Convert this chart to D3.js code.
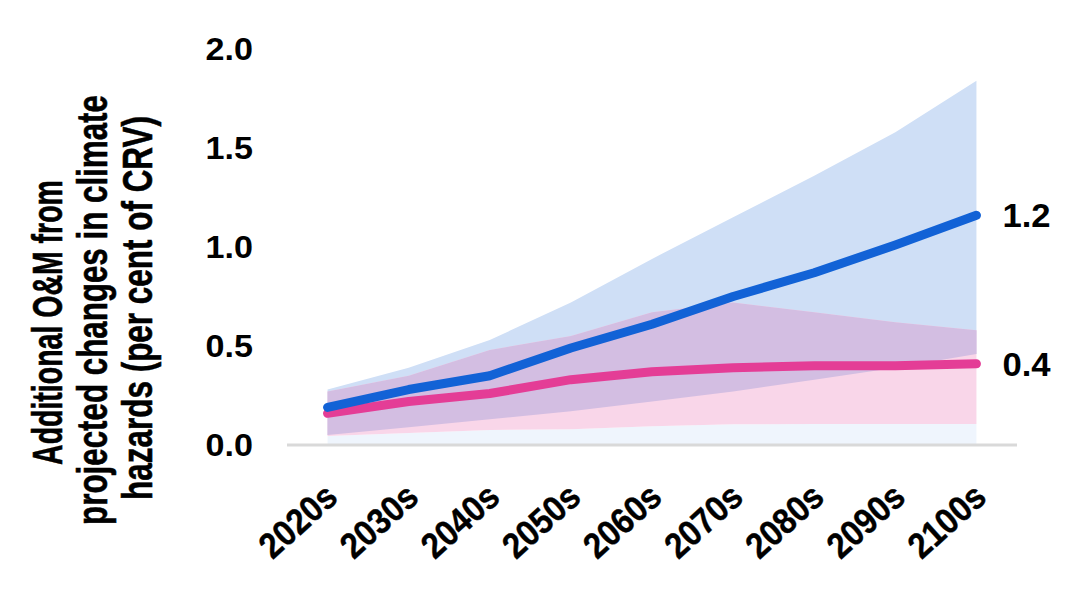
<!DOCTYPE html>
<html>
<head>
<meta charset="utf-8">
<script src="https://cdn.jsdelivr.net/npm/d3@7.9.0/dist/d3.min.js"></script>
<style>
  html, body { margin: 0; padding: 0; background: #fff; }
  svg { display: block; }
  text { font-family: "Liberation Sans", Arial, sans-serif; font-weight: bold; fill: #000; }
</style>
</head>
<body>
<svg id="chart" width="1067" height="594"></svg>
<script>
// Decades on the x axis
const decades = ["2020s", "2030s", "2040s", "2050s", "2060s", "2070s", "2080s", "2090s", "2100s"];

// Blue scenario: median and range
const blueMid   = [0.19, 0.28, 0.35, 0.49, 0.61, 0.75, 0.87, 1.01, 1.16];
const blueLow   = [0.05, 0.09, 0.13, 0.17, 0.22, 0.27, 0.33, 0.39, 0.46];
const blueHigh  = [0.28, 0.39, 0.53, 0.72, 0.94, 1.15, 1.36, 1.58, 1.84];

// Pink scenario: median and range
const pinkMid   = [0.16, 0.22, 0.26, 0.33, 0.37, 0.39, 0.40, 0.40, 0.41];
const pinkLow   = [0.045, 0.06, 0.076, 0.08, 0.095, 0.105, 0.106, 0.106, 0.106];
const pinkHigh  = [0.27, 0.35, 0.48, 0.55, 0.67, 0.72, 0.67, 0.62, 0.58];

const yTicks = [0, 0.5, 1, 1.5, 2];
const titleLines = ["Additional O&M from", "projected changes in climate", "hazards (per cent of CRV)"];

const svg = d3.select("#chart");

const x = d3.scaleBand().domain(decades).range([287, 1017]);
const cx = d => x(d) + x.bandwidth() / 2;
const y = d3.scaleLinear().domain([0, 2]).range([445, 49]);

const rows = decades.map((d, i) => ({
  d,
  bm: blueMid[i], bl: blueLow[i], bh: blueHigh[i],
  pm: pinkMid[i], pl: pinkLow[i], ph: pinkHigh[i]
}));

function band(lo, hi, fill) {
  svg.append("path")
    .datum(rows)
    .attr("fill", fill)
    .attr("d", d3.area().x(r => cx(r.d)).y0(r => y(lo(r))).y1(r => y(hi(r))));
}

// Pale base, both ranges and their overlap
band(r => 0, r => Math.min(r.bl, r.pl), "#eff5fd");
band(r => r.bl, r => r.bh, "#cfdff6");
band(r => r.pl, r => r.ph, "#f9d6e9");
band(r => Math.max(r.bl, r.pl), r => Math.min(r.bh, r.ph), "#d3bee2");

// Baseline
svg.append("line")
  .attr("x1", x.range()[0]).attr("x2", x.range()[1])
  .attr("y1", y(0)).attr("y2", y(0))
  .attr("stroke", "#d9d9d9").attr("stroke-width", 3);

// Median lines
function medianLine(key, color) {
  svg.append("path")
    .datum(rows)
    .attr("fill", "none")
    .attr("stroke", color)
    .attr("stroke-width", 9)
    .attr("stroke-linecap", "round")
    .attr("stroke-linejoin", "round")
    .attr("d", d3.line().x(r => cx(r.d)).y(r => y(r[key])));
}
medianLine("pm", "#e43d96");
medianLine("bm", "#1262d6");

// End labels
const fmt = d3.format(".1f");
const last = rows[rows.length - 1];
[last.bm, last.pm].forEach(v => {
  svg.append("text")
    .attr("transform", `translate(${cx(last.d) + 26},${y(v)}) scale(1.05,1)`)
    .attr("dy", "0.36em")
    .attr("font-size", 33)
    .text(fmt(v));
});

// Y axis labels
svg.append("g").selectAll("text")
  .data(yTicks)
  .join("text")
  .attr("transform", d => `translate(253,${y(d)}) scale(1.1,1)`)
  .attr("dy", "0.36em")
  .attr("text-anchor", "end")
  .attr("font-size", 31)
  .text(d => fmt(d));

// X axis labels, rotated
svg.append("g").selectAll("text")
  .data(decades)
  .join("text")
  .attr("text-anchor", "end")
  .attr("font-size", 36)
  .attr("stroke", "#000").attr("stroke-width", 0.4)
  .attr("transform", d => `translate(${cx(d) + 12},500) rotate(-42) scale(0.9,1)`)
  .text(d => d);

// Y axis title: three condensed lines, squeezed to the span each one covers
const titleSpans = [[180, 465], [95, 525], [116, 500]];
titleLines.forEach((t, i) => {
  const [top, bottom] = titleSpans[i];
  const txt = svg.append("text")
    .attr("text-anchor", "middle")
    .attr("font-size", 42)
    .attr("stroke", "#000").attr("stroke-width", 0.6)
    .text(t);
  const k = (bottom - top) / txt.node().getComputedTextLength();
  txt.attr("transform", `translate(${62 + i * 45},${(top + bottom) / 2}) rotate(-90) scale(${k},1)`);
});
</script>
</body>
</html>
